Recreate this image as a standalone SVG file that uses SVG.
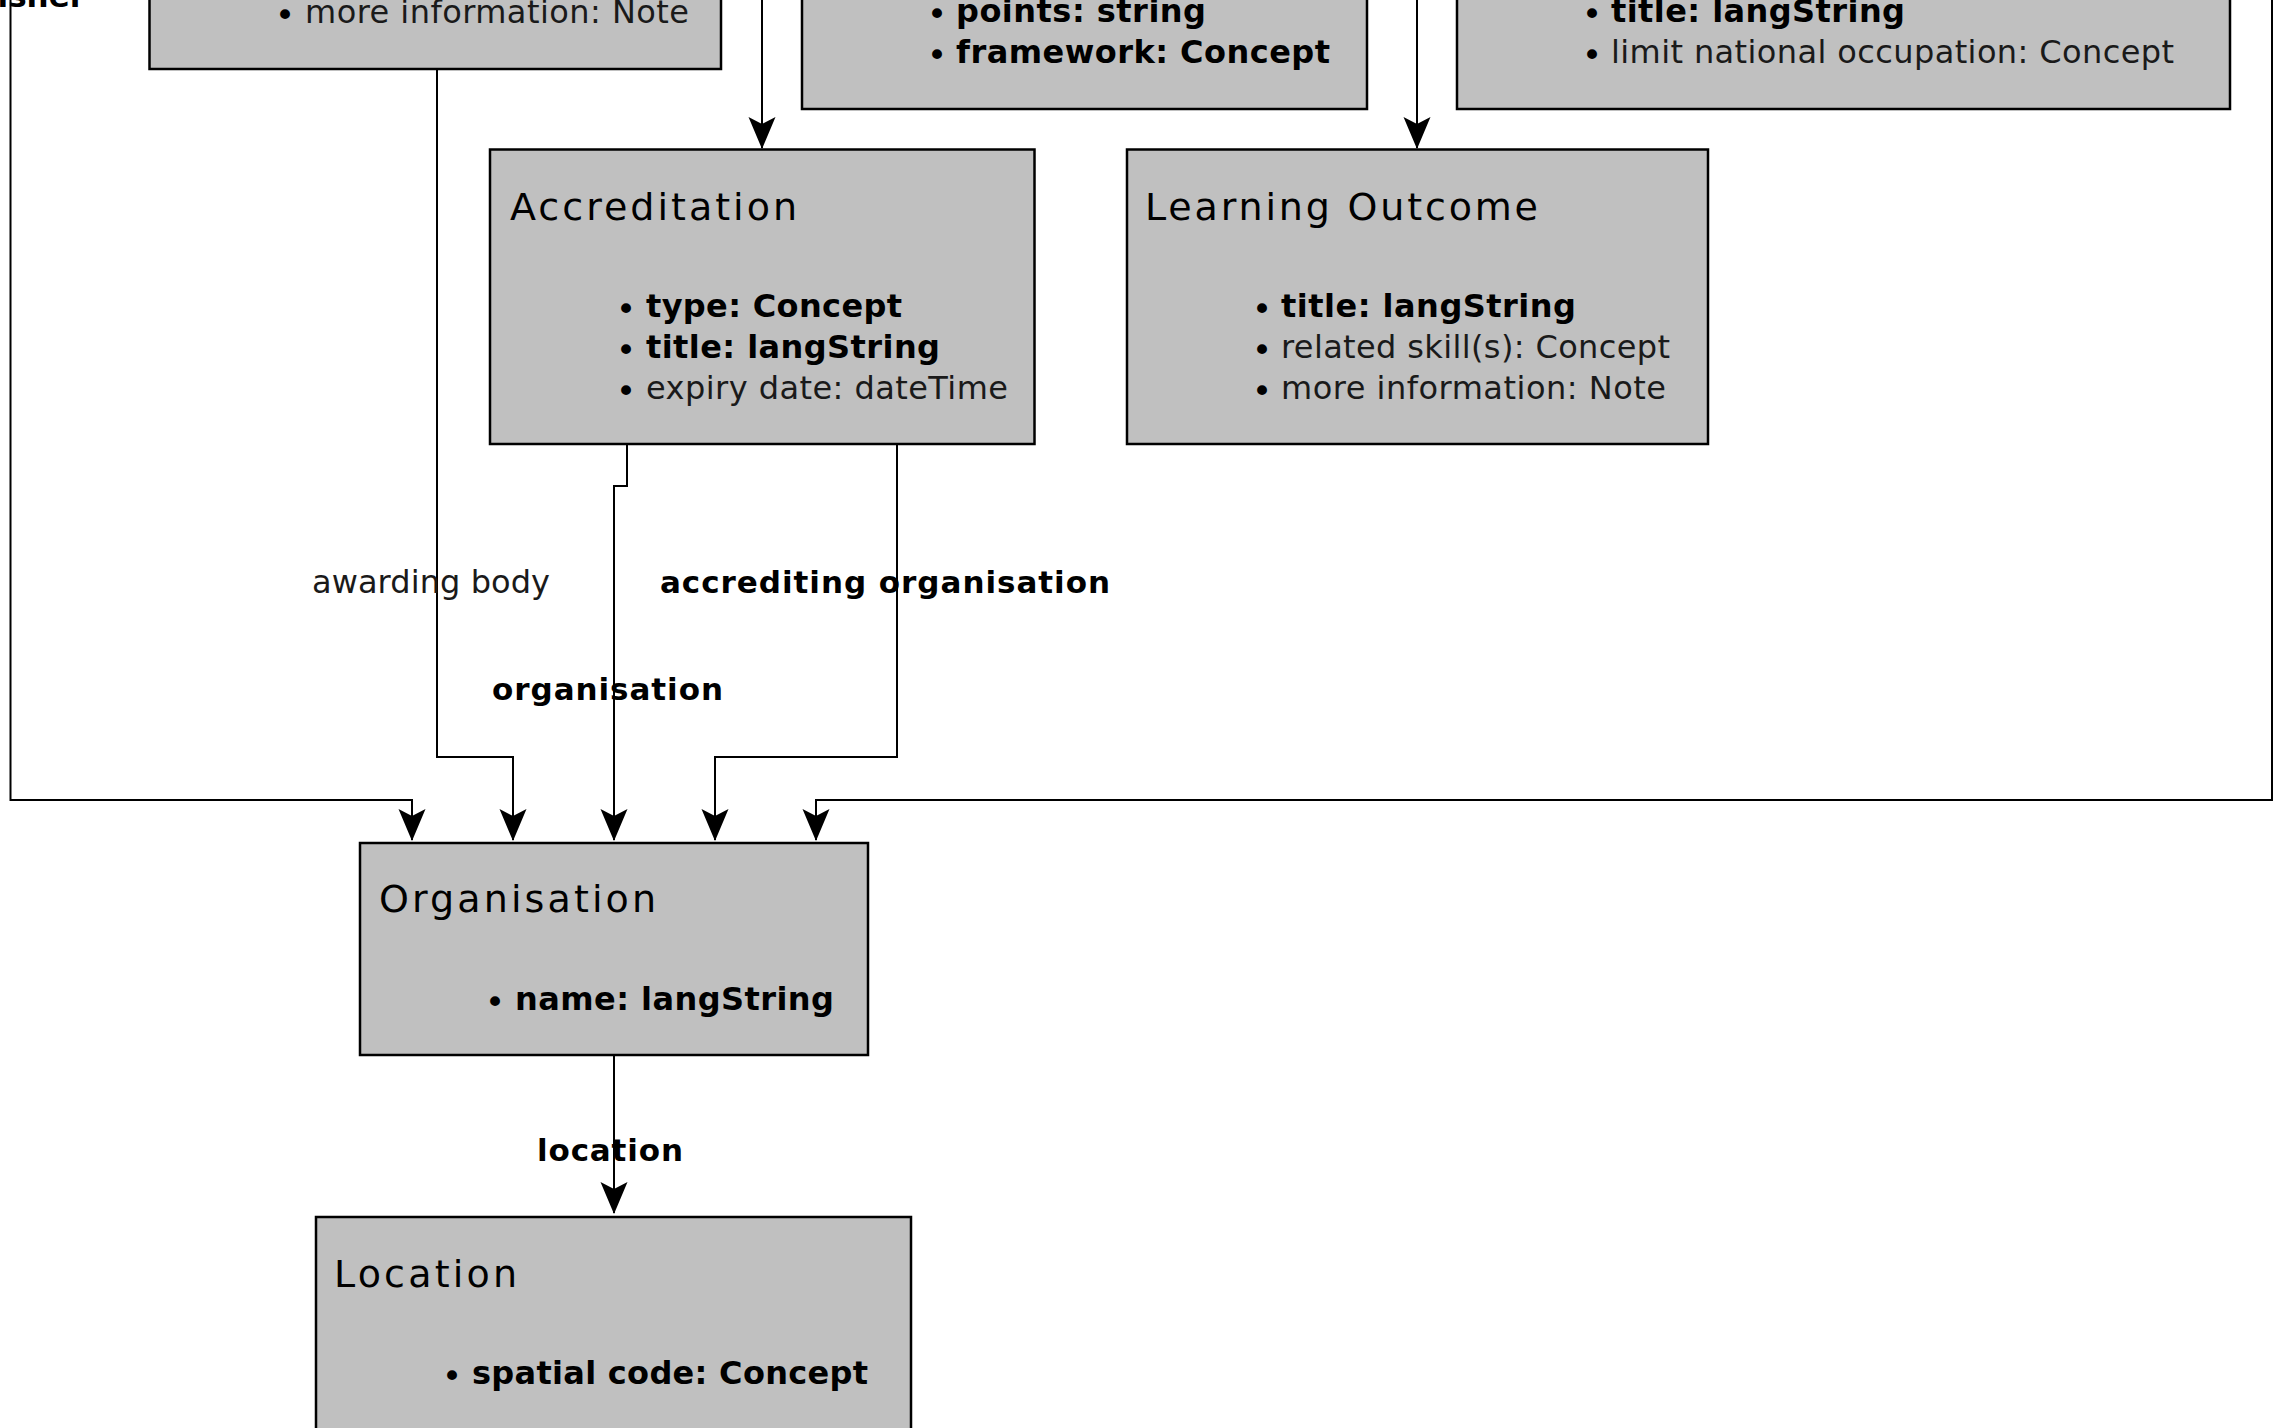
<svg xmlns="http://www.w3.org/2000/svg" width="2275" height="1428" viewBox="0 0 2275 1428">
<style>
.box{fill:#c0c0c0;stroke:#000;stroke-width:2.5}
text{font-family:"DejaVu Sans",Verdana,"Liberation Sans",sans-serif;fill:#000}
.t{font-size:38px}
.b{font-size:32px;font-weight:bold}
.n{font-size:32px;fill:#1a1a1a}
.dot{font-size:34px;text-anchor:middle}
.lb{font-size:31px;font-weight:bold}
.ln{font-size:32px;fill:#1a1a1a}
.edge{fill:none;stroke:#000;stroke-width:2;marker-end:url(#arr)}
</style>
<defs>
<marker id="arr" markerUnits="userSpaceOnUse" viewBox="-32 -15 34 30" markerWidth="34" markerHeight="30" refX="0" refY="0" orient="auto">
<path d="M1,0 L-31,-13.5 L-24,0 L-31,13.5 Z" fill="#000"/>
</marker>
</defs>
<rect width="2275" height="1428" fill="#fff"/>

<g id="connectors">
<path class="edge" d="M10.5,-10 V800 H412 V840"/>
<path class="edge" d="M437,69 V757 H513 V840"/>
<path class="edge" d="M762,-10 V148"/>
<path class="edge" d="M1417,-10 V148"/>
<path class="edge" d="M2272,-10 V800 H816 V840"/>
<path class="edge" d="M627,444 V486 H614 V840"/>
<path class="edge" d="M897,444 V757 H715 V840"/>
<path class="edge" d="M614,1055 V1213"/>
<text class="lb" x="85" y="7" text-anchor="end">publisher</text>
<text class="ln" x="312" y="593" textLength="238" lengthAdjust="spacing">awarding body</text>
<text class="lb" x="660" y="593" textLength="450" lengthAdjust="spacing">accrediting organisation</text>
<text class="lb" x="492" y="700" textLength="231" lengthAdjust="spacing">organisation</text>
<text class="lb" x="537" y="1161" textLength="146" lengthAdjust="spacing">location</text>
</g>

<g id="node-topleft">
<rect class="box" x="149.5" y="-200" width="571.5" height="269"/>
<text class="dot" x="285" y="27">•</text>
<text class="n" x="305" y="23" textLength="384" lengthAdjust="spacing">more information: Note</text>
</g>

<g id="node-topmiddle">
<rect class="box" x="802" y="-200" width="565" height="309"/>
<text class="dot" x="937" y="26">•</text>
<text class="b" x="956" y="22" textLength="250" lengthAdjust="spacing">points: string</text>
<text class="dot" x="937" y="67">•</text>
<text class="b" x="956" y="63" textLength="374" lengthAdjust="spacing">framework: Concept</text>
</g>

<g id="node-topright">
<rect class="box" x="1457" y="-200" width="773" height="309"/>
<text class="dot" x="1592" y="26">•</text>
<text class="b" x="1611" y="22" textLength="294" lengthAdjust="spacing">title: langString</text>
<text class="dot" x="1592" y="67">•</text>
<text class="n" x="1611" y="63" textLength="563" lengthAdjust="spacing">limit national occupation: Concept</text>
</g>

<g id="node-accreditation">
<rect class="box" x="490" y="149.5" width="544.5" height="294.5"/>
<text class="t" x="510" y="220" textLength="287" lengthAdjust="spacing">Accreditation</text>
<text class="dot" x="626" y="321">•</text>
<text class="b" x="646" y="317" textLength="256" lengthAdjust="spacing">type: Concept</text>
<text class="dot" x="626" y="362">•</text>
<text class="b" x="646" y="358" textLength="294" lengthAdjust="spacing">title: langString</text>
<text class="dot" x="626" y="403">•</text>
<text class="n" x="646" y="399" textLength="362" lengthAdjust="spacing">expiry date: dateTime</text>
</g>

<g id="node-learning-outcome">
<rect class="box" x="1127" y="149.5" width="581" height="294.5"/>
<text class="t" x="1145" y="220" textLength="393" lengthAdjust="spacing">Learning Outcome</text>
<text class="dot" x="1262" y="321">•</text>
<text class="b" x="1281" y="317" textLength="295" lengthAdjust="spacing">title: langString</text>
<text class="dot" x="1262" y="362">•</text>
<text class="n" x="1281" y="358" textLength="389" lengthAdjust="spacing">related skill(s): Concept</text>
<text class="dot" x="1262" y="403">•</text>
<text class="n" x="1281" y="399" textLength="385" lengthAdjust="spacing">more information: Note</text>
</g>

<g id="node-organisation">
<rect class="box" x="360" y="843" width="508" height="212"/>
<text class="t" x="379" y="912" textLength="277" lengthAdjust="spacing">Organisation</text>
<text class="dot" x="495" y="1014">•</text>
<text class="b" x="515" y="1010" textLength="319" lengthAdjust="spacing">name: langString</text>
</g>

<g id="node-location">
<rect class="box" x="316" y="1217" width="595" height="260"/>
<text class="t" x="334" y="1287" textLength="183" lengthAdjust="spacing">Location</text>
<text class="dot" x="452" y="1388">•</text>
<text class="b" x="472" y="1384" textLength="396" lengthAdjust="spacing">spatial code: Concept</text>
</g>
</svg>
